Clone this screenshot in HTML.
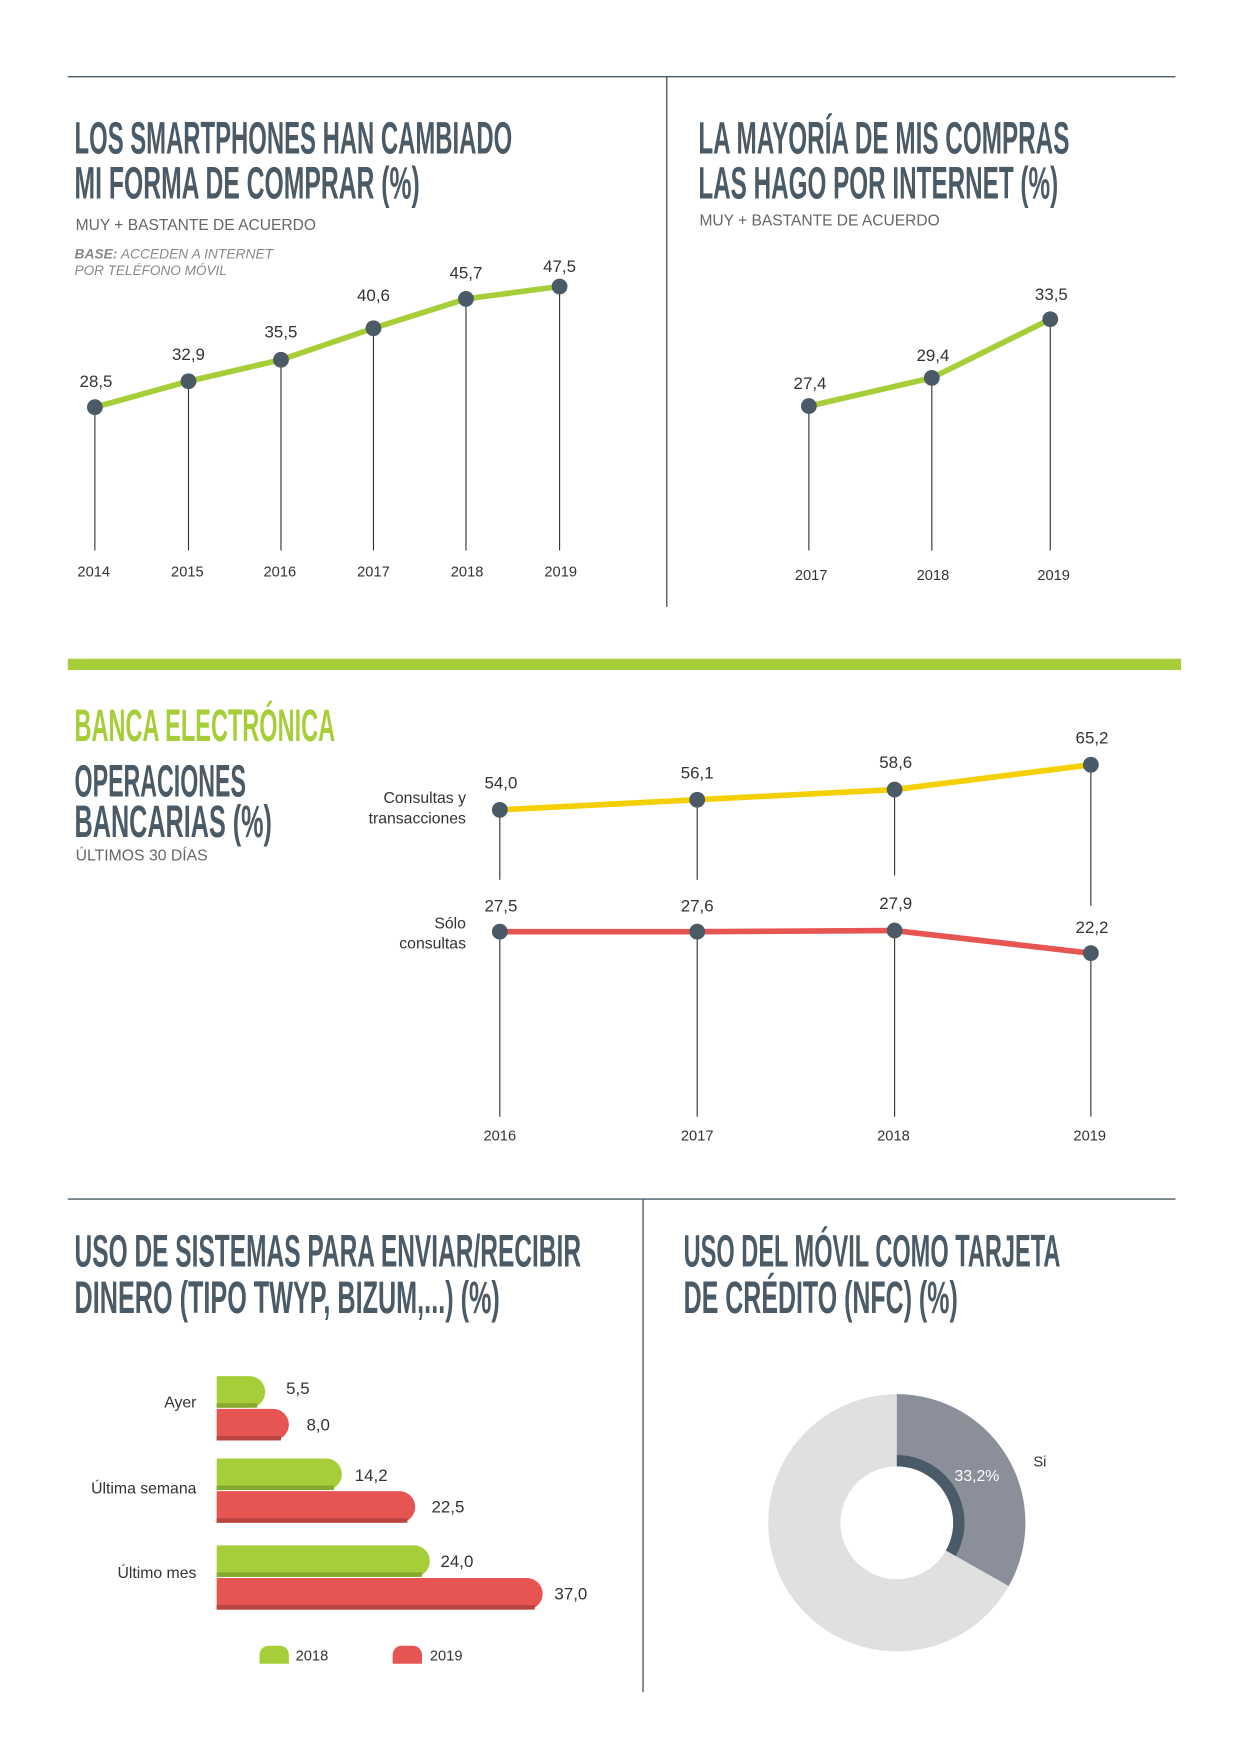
<!DOCTYPE html>
<html><head><meta charset="utf-8"><style>
html,body{margin:0;padding:0;background:#fff}
svg{display:block}
text{font-family:"Liberation Sans",sans-serif}
.t{font-weight:bold;fill:#4a5a66;font-size:40px}
.s{fill:#666;font-size:14px}
.v{fill:#333;font-size:15px;text-anchor:middle}
.y{fill:#333;font-size:13px;text-anchor:middle}
.c{fill:#333;font-size:14px;text-anchor:end}
</style></head><body>
<svg width="1241" height="1754" viewBox="0 0 1100 1555" xmlns="http://www.w3.org/2000/svg">
<rect width="1100" height="1555" fill="#fff"/>
<line x1="60" y1="68" x2="1042" y2="68" stroke="#4a5a66" stroke-width="1.2"/>
<line x1="591" y1="68" x2="591" y2="538" stroke="#4a5a66" stroke-width="1.2"/>
<text class="t" x="66" y="136" textLength="388" lengthAdjust="spacingAndGlyphs">LOS SMARTPHONES HAN CAMBIADO</text>
<text class="t" x="66" y="176" textLength="306" lengthAdjust="spacingAndGlyphs">MI FORMA DE COMPRAR (%)</text>
<text class="s" x="67" y="204" textLength="213" lengthAdjust="spacingAndGlyphs">MUY + BASTANTE DE ACUERDO</text>
<text x="66" y="229" font-size="12" fill="#888" font-style="italic" textLength="176" lengthAdjust="spacingAndGlyphs"><tspan font-weight="bold">BASE:</tspan> ACCEDEN A INTERNET</text>
<text x="66" y="244" font-size="12" fill="#888" font-style="italic" textLength="135" lengthAdjust="spacingAndGlyphs">POR TELÉFONO MÓVIL</text>
<g stroke="#333" stroke-width="1">
<line x1="84" y1="361" x2="84" y2="488"/><line x1="167" y1="338" x2="167" y2="488"/><line x1="249" y1="319" x2="249" y2="488"/><line x1="331" y1="291" x2="331" y2="488"/><line x1="413" y1="265" x2="413" y2="488"/><line x1="496" y1="254" x2="496" y2="488"/>
<line x1="717" y1="360" x2="717" y2="488"/><line x1="826" y1="335" x2="826" y2="488"/><line x1="931" y1="283" x2="931" y2="488"/>
</g>
<polyline points="84,361 167,338 249,319 331,291 413,265 496,254" fill="none" stroke="#a6ce39" stroke-width="5"/>
<polyline points="717,360 826,335 931,283" fill="none" stroke="#a6ce39" stroke-width="5"/>
<g fill="#4a5a66">
<circle cx="84" cy="361" r="7"/><circle cx="167" cy="338" r="7"/><circle cx="249" cy="319" r="7"/><circle cx="331" cy="291" r="7"/><circle cx="413" cy="265" r="7"/><circle cx="496" cy="254" r="7"/>
<circle cx="717" cy="360" r="7"/><circle cx="826" cy="335" r="7"/><circle cx="931" cy="283" r="7"/>
</g>
<g class="v">
<text class="v" x="85" y="343">28,5</text><text class="v" x="167" y="319">32,9</text><text class="v" x="249" y="299">35,5</text><text class="v" x="331" y="267">40,6</text><text class="v" x="413" y="247">45,7</text><text class="v" x="496" y="241">47,5</text>
<text class="v" x="718" y="345">27,4</text><text class="v" x="827" y="320">29,4</text><text class="v" x="932" y="266">33,5</text>
</g>
<text class="y" x="83" y="511">2014</text><text class="y" x="166" y="511">2015</text><text class="y" x="248" y="511">2016</text><text class="y" x="331" y="511">2017</text><text class="y" x="414" y="511">2018</text><text class="y" x="497" y="511">2019</text>
<text class="y" x="719" y="514">2017</text><text class="y" x="827" y="514">2018</text><text class="y" x="934" y="514">2019</text>
<text class="t" x="619" y="136" textLength="329" lengthAdjust="spacingAndGlyphs">LA MAYORÍA DE MIS COMPRAS</text>
<text class="t" x="619" y="176" textLength="319" lengthAdjust="spacingAndGlyphs">LAS HAGO POR INTERNET (%)</text>
<text class="s" x="620" y="200" textLength="213" lengthAdjust="spacingAndGlyphs">MUY + BASTANTE DE ACUERDO</text>

<rect x="60" y="584" width="987" height="10" fill="#a6ce39"/>
<text class="t" x="66" y="657" fill="#a6ce39" style="fill:#a6ce39" textLength="231" lengthAdjust="spacingAndGlyphs">BANCA ELECTRÓNICA</text>
<text class="t" x="66" y="706" textLength="152" lengthAdjust="spacingAndGlyphs">OPERACIONES</text>
<text class="t" x="66" y="742" textLength="175" lengthAdjust="spacingAndGlyphs">BANCARIAS (%)</text>
<text class="s" x="67" y="763" textLength="117" lengthAdjust="spacingAndGlyphs">ÚLTIMOS 30 DÍAS</text>
<text class="c" x="413" y="712">Consultas y</text><text class="c" x="413" y="730">transacciones</text>
<text class="c" x="413" y="823">Sólo</text><text class="c" x="413" y="841">consultas</text>
<g stroke="#333" stroke-width="1">
<line x1="443" y1="718" x2="443" y2="780"/><line x1="618" y1="709" x2="618" y2="780"/><line x1="793" y1="700" x2="793" y2="776"/><line x1="967" y1="678" x2="967" y2="803"/>
<line x1="443" y1="826" x2="443" y2="990"/><line x1="618" y1="826" x2="618" y2="990"/><line x1="793" y1="825" x2="793" y2="990"/><line x1="967" y1="845" x2="967" y2="990"/>
</g>
<polyline points="443,718 618,709 793,700 967,678" fill="none" stroke="#f5d000" stroke-width="5"/>
<polyline points="443,826 618,826 793,825 967,845" fill="none" stroke="#e65552" stroke-width="5"/>
<g fill="#4a5a66">
<circle cx="443" cy="718" r="7"/><circle cx="618" cy="709" r="7"/><circle cx="793" cy="700" r="7"/><circle cx="967" cy="678" r="7"/>
<circle cx="443" cy="826" r="7"/><circle cx="618" cy="826" r="7"/><circle cx="793" cy="825" r="7"/><circle cx="967" cy="845" r="7"/>
</g>
<text class="v" x="444" y="699">54,0</text><text class="v" x="618" y="690">56,1</text><text class="v" x="794" y="681">58,6</text><text class="v" x="968" y="659">65,2</text>
<text class="v" x="444" y="808">27,5</text><text class="v" x="618" y="808">27,6</text><text class="v" x="794" y="806">27,9</text><text class="v" x="968" y="827">22,2</text>
<text class="y" x="443" y="1011">2016</text><text class="y" x="618" y="1011">2017</text><text class="y" x="792" y="1011">2018</text><text class="y" x="966" y="1011">2019</text>

<line x1="60" y1="1063" x2="1042" y2="1063" stroke="#4a5a66" stroke-width="1.2"/>
<line x1="570" y1="1063" x2="570" y2="1500" stroke="#4a5a66" stroke-width="1.2"/>
<text class="t" x="66" y="1123" textLength="449" lengthAdjust="spacingAndGlyphs">USO DE SISTEMAS PARA ENVIAR/RECIBIR</text>
<text class="t" x="66" y="1164" textLength="377" lengthAdjust="spacingAndGlyphs">DINERO (TIPO TWYP, BIZUM,...) (%)</text>
<text class="t" x="606" y="1123" textLength="334" lengthAdjust="spacingAndGlyphs">USO DEL MÓVIL COMO TARJETA</text>
<text class="t" x="606" y="1164" textLength="243" lengthAdjust="spacingAndGlyphs">DE CRÉDITO (NFC) (%)</text>

<g>
<path d="M192 1220 H221 a14 14 0 0 1 0 28 H192Z" fill="#a6ce39"/><rect x="192" y="1244" width="36" height="4" fill="#86a82c"/>
<path d="M192 1249 H242 a14 14 0 0 1 0 28 H192Z" fill="#e65552"/><rect x="192" y="1273" width="57" height="4" fill="#b94442"/>
<path d="M192 1293 H289 a14 14 0 0 1 0 28 H192Z" fill="#a6ce39"/><rect x="192" y="1317" width="104" height="4" fill="#86a82c"/>
<path d="M192 1322 H354 a14 14 0 0 1 0 28 H192Z" fill="#e65552"/><rect x="192" y="1346" width="169" height="4" fill="#b94442"/>
<path d="M192 1370 H367 a14 14 0 0 1 0 28 H192Z" fill="#a6ce39"/><rect x="192" y="1394" width="182" height="4" fill="#86a82c"/>
<path d="M192 1399 H467 a14 14 0 0 1 0 28 H192Z" fill="#e65552"/><rect x="192" y="1423" width="282" height="4" fill="#b94442"/>
</g>
<text class="v" x="264" y="1236">5,5</text><text class="v" x="282" y="1268">8,0</text>
<text class="v" x="329" y="1313">14,2</text><text class="v" x="397" y="1341">22,5</text>
<text class="v" x="405" y="1389">24,0</text><text class="v" x="506" y="1418">37,0</text>
<text class="c" x="174" y="1248">Ayer</text><text class="c" x="174" y="1324">Última semana</text><text class="c" x="174" y="1399">Último mes</text>
<path d="M230 1475 V1467 a8 8 0 0 1 8 -8 H248 a8 8 0 0 1 8 8 V1475Z" fill="#a6ce39"/>
<text x="262" y="1472" font-size="13" fill="#333">2018</text>
<path d="M348 1475 V1467 a8 8 0 0 1 8 -8 H366 a8 8 0 0 1 8 8 V1475Z" fill="#e65552"/>
<text x="381" y="1472" font-size="13" fill="#333">2019</text>

<circle cx="795" cy="1350" r="82" fill="none" stroke="#e0e0e0" stroke-width="64"/>
<path d="M795 1236 A114 114 0 0 1 894.2 1406.1 L838.5 1374.6 A50 50 0 0 0 795 1300Z" fill="#8a8f9a"/>
<path d="M795 1290 A60 60 0 0 1 847.2 1379.5 L838.5 1374.6 A50 50 0 0 0 795 1300Z" fill="#4a5a66"/>
<text x="866" y="1313" font-size="14" fill="#fff" text-anchor="middle">33,2%</text>
<text x="916" y="1300" font-size="13" fill="#333">Si</text>
</svg>
</body></html>
